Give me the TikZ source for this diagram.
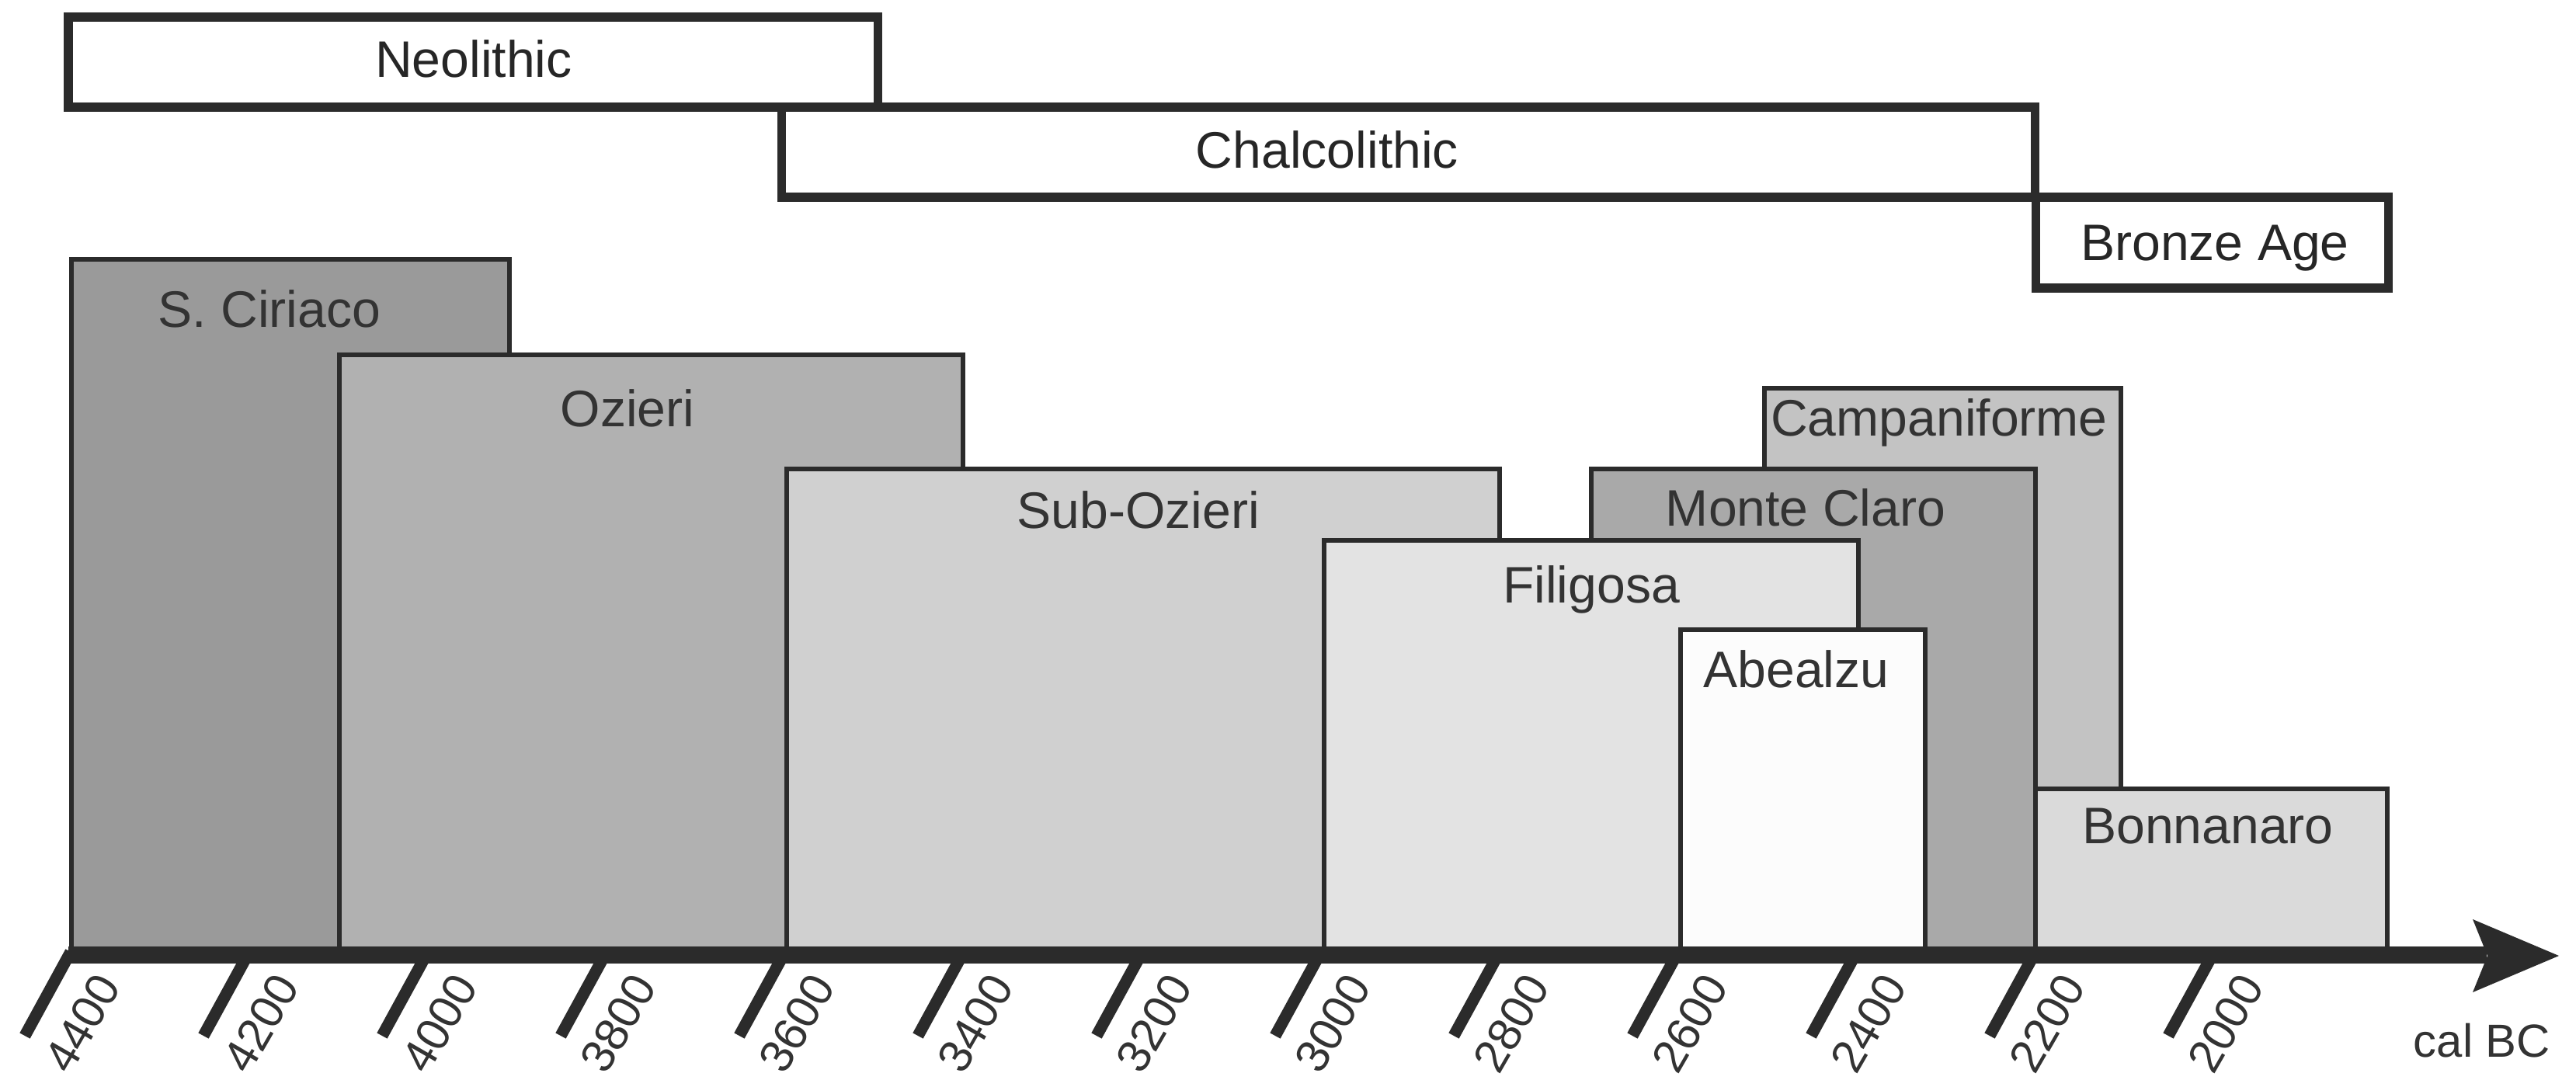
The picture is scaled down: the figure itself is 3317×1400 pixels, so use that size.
\documentclass[tikz,border=0pt]{standalone}
\usepackage{fontspec}
\setmainfont{Liberation Sans}
\definecolor{linec}{HTML}{2B2B2B}
\definecolor{labc}{HTML}{333333}
\definecolor{cciriaco}{HTML}{9A9A9A}
\definecolor{cozieri}{HTML}{B1B1B1}
\definecolor{csubozieri}{HTML}{D0D0D0}
\definecolor{cfiligosa}{HTML}{E3E3E3}
\definecolor{cabealzu}{HTML}{FCFCFC}
\definecolor{cmonte}{HTML}{A9A9A9}
\definecolor{ccampa}{HTML}{C3C3C3}
\definecolor{cbonna}{HTML}{DADADA}
\begin{document}
\begin{tikzpicture}[x=0.01cm,y=-0.01cm,
  lab/.style={font=\fontsize{18.8}{22}\selectfont, text=labc, anchor=base, inner sep=0pt},
  toplab/.style={font=\fontsize{18.8}{22}\selectfont, text=black!85, anchor=base, inner sep=0pt},
  smalllab/.style={font=\fontsize{17}{20}\selectfont, text=labc, anchor=base, inner sep=0pt},
  ticklab/.style={font=\fontsize{17}{20}\selectfont, text=labc, anchor=center, inner sep=0pt, rotate=60},
  periodbox/.style={draw=linec, line width=3.13pt, fill=white},
  culturebox/.style={draw=linec, line width=1.45pt},
  tickmark/.style={draw=linec, line width=4.3pt},
  axisbar/.style={draw=linec, line width=6.26pt}]
\useasboundingbox (0,0) rectangle (3317,1400);
\fill[white] (0,0) rectangle (3317,1400);

% period boxes
\draw[periodbox] (88,22) rectangle (1130,138);
\draw[periodbox] (1006,138) rectangle (2620,254);
\draw[periodbox] (2621,254) rectangle (3075,371);
\node[toplab] (neo) at (610,100) {Neolithic};
\node[toplab] (chalco) at (1709,217) {Chalcolithic};
\node[toplab] (bronze) at (2852,335) {Bronze Age};

% culture boxes
\draw[culturebox, fill=cciriaco] (92,334) rectangle (656,1222);
\draw[culturebox, fill=cozieri] (437,457) rectangle (1240,1222);
\draw[culturebox, fill=csubozieri] (1013,604) rectangle (1931,1222);
\draw[culturebox, fill=ccampa] (2272,500) rectangle (2731,1222);
\draw[culturebox, fill=cmonte] (2049,604) rectangle (2621,1222);
\draw[culturebox, fill=cfiligosa] (1705,696) rectangle (2393,1222);
\draw[culturebox, fill=cabealzu] (2164,811) rectangle (2479,1222);
\draw[culturebox, fill=cbonna] (2621,1016) rectangle (3074,1222);

\node[lab] (ciriaco) at (347,421) {S. Ciriaco};
\node[lab] (ozieri) at (808,549) {Ozieri};
\node[lab] (subozieri) at (1466,680) {Sub-Ozieri};
\node[lab] (filigosa) at (2049,776) {Filigosa};
\node[lab] (abealzu) at (2313,885) {Abealzu};
\node[lab] (monte) at (2325,677) {Monte Claro};
\node[lab] (campa) at (2497,561) {Campaniforme};
\node[lab] (bonna) at (2843,1086) {Bonnanaro};

% axis
\draw[axisbar] (88,1230) -- (3202,1230);
\fill[linec] (3184,1184) -- (3295,1231) -- (3184,1278) -- (3203,1231) -- cycle;
\foreach \yr [count=\i from 0] in {4400,4200,4000,3800,3600,3400,3200,3000,2800,2600,2400,2200,2000} {
  \pgfmathsetmacro{\tx}{91+230*\i}
  \draw[tickmark] (\tx,1226) -- ++(-59,108);
  \node[ticklab] (t\yr) at (\tx+15,1318) {\yr};
}
\node[smalllab] (calbc) at (3196,1361) {cal BC};
\end{tikzpicture}
\end{document}
